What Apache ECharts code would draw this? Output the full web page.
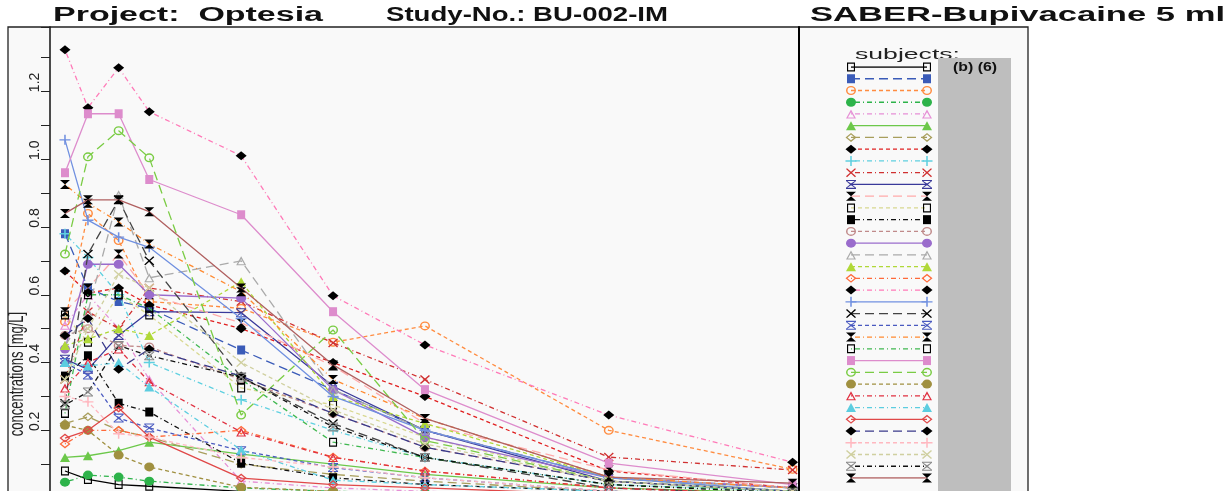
<!DOCTYPE html>
<html><head><meta charset="utf-8">
<script src="https://cdn.jsdelivr.net/npm/echarts@6/dist/echarts.min.js"></script>
<style>html,body{margin:0;padding:0;background:#fff}#c{width:1231px;height:491px}</style>
</head><body><div id="c"></div>
<script>
// time points (hours)
const times = [0.083, 0.333, 0.667, 1, 2, 3, 4, 6, 8];
// concentrations [mg/L] per subject
const s01 = [0.08, 0.055, 0.04, 0.035, 0.02, 0.015, 0.01, 0.008, 0.005];
const s02 = [0.78, 0.62, 0.58, 0.56, 0.437, 0.32, 0.2, 0.06, 0.03];
const s03 = [0.52, 0.84, 0.76, 0.58, 0.56, 0.46, 0.508, 0.2, 0.085];
const s04 = [0.047, 0.068, 0.062, 0.05, 0.03, 0.02, 0.015, 0.01, 0.005];
const s05 = [0.51, 0.6, 0.5, 0.35, 0.05, 0.03, 0.02, 0.01, 0.005];
const s06 = [0.12, 0.125, 0.14, 0.165, 0.13, 0.1, 0.07, 0.03, 0.015];
const s07 = [0.22, 0.24, 0.2, 0.18, 0.1, 0.07, 0.05, 0.02, 0.01];
const s08 = [0.67, 0.605, 0.62, 0.57, 0.5, 0.4, 0.3, 0.08, 0.03];
const s09 = [0.78, 0.71, 0.6, 0.4, 0.29, 0.2, 0.12, 0.04, 0.02];
const s10 = [0.35, 0.55, 0.5, 0.62, 0.58, 0.458, 0.35, 0.121, 0.083];
const s11 = [0.41, 0.38, 0.48, 0.55, 0.547, 0.33, 0.2, 0.05, 0.02];
const s12 = [0.55, 0.62, 0.72, 0.6, 0.517, 0.39, 0.22, 0.083, 0.03];
const s13 = [0.54, 0.46, 0.6, 0.54, 0.325, 0.275, 0.18, 0.05, 0.02];
const s14 = [0.36, 0.42, 0.28, 0.254, 0.103, 0.06, 0.04, 0.02, 0.01];
const s15 = [0.48, 0.5, 0.45, 0.446, 0.35, 0.25, 0.15, 0.05, 0.02];
const s16 = [0.44, 0.69, 0.69, 0.6, 0.59, 0.32, 0.18, 0.06, 0.03];
const s17 = [0.45, 0.55, 0.895, 0.65, 0.70, 0.32, 0.2, 0.06, 0.03];
const s18 = [0.45, 0.47, 0.5, 0.48, 0.638, 0.3, 0.22, 0.06, 0.02];
const s19 = [0.16, 0.2, 0.2, 0.18, 0.2, 0.121, 0.08, 0.03, 0.01];
const s20 = [1.323, 1.152, 1.27, 1.14, 1.01, 0.597, 0.452, 0.245, 0.106];
const s21 = [1.057, 0.82, 0.77, 0.74, 0.53, 0.3, 0.2, 0.06, 0.02];
const s22 = [0.28, 0.72, 0.88, 0.7, 0.357, 0.22, 0.12, 0.03, 0.01];
const s23 = [0.4, 0.363, 0.236, 0.207, 0.14, 0.09, 0.06, 0.02, 0.01];
const s24 = [0.925, 0.87, 0.815, 0.75, 0.609, 0.35, 0.235, 0.062, 0.03];
const s25 = [0.25, 0.6, 0.6, 0.56, 0.35, 0.165, 0.12, 0.04, 0.02];
const s26 = [0.96, 1.134, 1.134, 0.94, 0.836, 0.55, 0.32, 0.103, 0.04];
const s27 = [0.72, 1.007, 1.084, 1.004, 0.245, 0.496, 0.17, 0.05, 0.02];
const s28 = [0.215, 0.2, 0.127, 0.092, 0.032, 0.02, 0.01, 0.005, 0.005];
const s29 = [0.325, 0.4, 0.44, 0.343, 0.195, 0.12, 0.08, 0.03, 0.01];
const s30 = [0.4, 0.39, 0.4, 0.328, 0.142, 0.053, 0.04, 0.02, 0.01];
const s31 = [0.177, 0.2, 0.266, 0.18, 0.059, 0.04, 0.03, 0.01, 0.005];
const s32 = [0.48, 0.53, 0.38, 0.44, 0.36, 0.25, 0.15, 0.05, 0.02];
const s33 = [0.3, 0.284, 0.19, 0.18, 0.12, 0.092, 0.06, 0.02, 0.01];
const s34 = [0.35, 0.5, 0.66, 0.62, 0.4, 0.26, 0.16, 0.05, 0.02];
const s35 = [0.275, 0.313, 0.45, 0.42, 0.357, 0.21, 0.12, 0.04, 0.015];
const s36 = [0.84, 0.88, 0.88, 0.845, 0.62, 0.393, 0.235, 0.062, 0.044];
const subjects = [s01,s02,s03,s04,s05,s06,s07,s08,s09,s10,s11,s12,s13,s14,s15,s16,s17,s18,s19,s20,s21,s22,s23,s24,s25,s26,s27,s28,s29,s30,s31,s32,s33,s34,s35,s36];
const yTicks = [0.2, 0.4, 0.6, 0.8, 1.0, 1.2];

// marker shapes
const P = {
  oSq: 'path://M0,0H10V10H0Z M1.4,1.4V8.6H8.6V1.4Z',
  fSq: 'path://M0,0H10V10H0Z',
  oCi: 'path://M5,0A5,5 0 1 1 5,10A5,5 0 1 1 5,0Z M5,1.5A3.5,3.5 0 1 0 5,8.5A3.5,3.5 0 1 0 5,1.5Z',
  fCi: 'path://M5,0A5,5 0 1 1 5,10A5,5 0 1 1 5,0Z',
  oTr: 'path://M5,0L10,10L0,10Z M5,3L1.9,8.9L8.1,8.9Z',
  fTr: 'path://M5,0L10,10L0,10Z',
  oDi: 'path://M5,0L10,5L5,10L0,5Z M5,1.8L1.8,5L5,8.2L8.2,5Z',
  fDi: 'path://M5,0L10,5L5,10L0,5Z',
  plus: 'path://M4.3,0H5.7V4.3H10V5.7H5.7V10H4.3V5.7H0V4.3H4.3Z',
  x: 'path://M0,1L1,0L5,4L9,0L10,1L6,5L10,9L9,10L5,6L1,10L0,9L4,5Z',
  hg: 'path://M0,0L10,0L0,10L10,10Z',
  hgx: 'path://M0,0H10V1.2H0Z M0,8.8H10V10H0Z M0,1.2L1.2,1.2L5,4L8.8,1.2L10,1.2L6,5L10,8.8L8.8,8.8L5,6L1.2,8.8L0,8.8L4,5Z'
};
const D = {solid:'solid', dashed:[4,3], dotdash:[1,3,5,3], longdash:[9,5]};
const styles = [
 ['oSq','#000','#000','solid'],
 ['fSq','#3a5bb8','#3a5bb8','longdash'],
 ['oCi','#ff8c40','#ff8c40','dashed'],
 ['fCi','#2db34a','#2db34a','dotdash'],
 ['oTr','#e68fd6','#e68fd6','dotdash'],
 ['fTr','#6cc84a','#6cc84a','solid'],
 ['oDi','#a89e5c','#a89e5c','longdash'],
 ['fDi','#000','#e02020','dashed'],
 ['plus','#5fd0e0','#5fd0e0','dotdash'],
 ['x','#d03030','#d03030','dotdash'],
 ['hgx','#3a3a9a','#3a3a9a','solid'],
 ['hg','#000','#ffaaaa','longdash'],
 ['oSq','#000','#d8d890','dashed'],
 ['fSq','#000','#111','dotdash'],
 ['oCi','#c08a8a','#c08a8a','dashed'],
 ['fCi','#9a6ccc','#9a6ccc','solid'],
 ['oTr','#aaaaaa','#aaaaaa','longdash'],
 ['fTr','#b0d838','#b0d838','dashed'],
 ['oDi','#ff6a3a','#ff6a3a','dotdash'],
 ['fDi','#000','#ff7ab8','dotdash'],
 ['plus','#7090e0','#7090e0','solid'],
 ['x','#000','#444','longdash'],
 ['hgx','#4a5ac0','#4a5ac0','dashed'],
 ['hg','#000','#ff8a30','dotdash'],
 ['oSq','#000','#40b850','dotdash'],
 ['fSq','#dd8ccc','#dd8ccc','solid'],
 ['oCi','#7acc44','#7acc44','longdash'],
 ['fCi','#a09040','#a09040','dashed'],
 ['oTr','#e03040','#e03040','dotdash'],
 ['fTr','#5ccde0','#5ccde0','dotdash'],
 ['oDi','#e04848','#e04848','solid'],
 ['fDi','#000','#3a3a8a','longdash'],
 ['plus','#ffb8c0','#ffb8c0','dashed'],
 ['x','#d0d0a0','#d0d0a0','dashed'],
 ['hgx','#888','#111','dotdash'],
 ['hg','#000','#b06060','solid']
];
const symSize = {oSq:[8,9], fSq:[8,9], oCi:[10,9], fCi:[10,9], oTr:[10,9], fTr:[10,9], oDi:[11,9], fDi:[11,9], plus:[11,10], x:[10,9], hg:[10,9], hgx:[10,9]};

const FONT = '"Liberation Sans", Arial, sans-serif';
const mctx = document.createElement('canvas').getContext('2d');
function fitScale(text, font, target){ mctx.font = font; return target / mctx.measureText(text).width; }

const chart = echarts.init(document.getElementById('c'), null, {renderer:'canvas'});
const series = [];
subjects.forEach((vals, i) => {
  const [sym, mc, lc, dash] = styles[i];
  const common = {
    type:'line', symbol: P[sym], showAllSymbol: true, silent: true, animation: false,
    itemStyle: {color: mc, borderWidth: 0},
    lineStyle: {color: lc, width: 1.3, type: D[dash]},
    z: 2 + i/100
  };
  series.push(Object.assign({}, common, {
    name: 'S' + (i+1), xAxisIndex: 0, yAxisIndex: 0, symbolSize: symSize[sym],
    data: vals.map((v, k) => [times[k], v])
  }));
  series.push(Object.assign({}, common, {
    name: 'L' + (i+1), xAxisIndex: 1, yAxisIndex: 2, symbolSize: symSize[sym],
    data: [[0, i], [1, i]]
  }));
});

const titleFont = 'bold 20px ' + FONT;
const titles = [
  ['Project:  Optesia', 53, 270],
  ['Study-No.: BU-002-IM', 386, 282],
  ['SABER-Bupivacaine 5 ml', 810, 415]
];
const graphics = [
  {type:'rect', z:-10, shape:{x:8, y:27, width:1020, height:520}, style:{fill:'#f9f9f9', stroke:'#222', lineWidth:1.3}},
  {type:'rect', z:60, shape:{x:938, y:58, width:73, height:440}, style:{fill:'#bebebe'}},
];
titles.forEach(([t, x, w]) => {
  graphics.push({type:'text', z:70, x:x, y:15, scaleX: fitScale(t, titleFont, w),
    style:{text:t, font:titleFont, fill:'#111', textAlign:'left', textVerticalAlign:'middle'}});
});
const subFont = '15px ' + FONT;
graphics.push({type:'text', z:50, x:855, y:55, scaleX: fitScale('subjects:', subFont, 105),
  style:{text:'subjects:', font:subFont, fill:'#222', textAlign:'left', textVerticalAlign:'middle'}});
const bFont = 'bold 13px ' + FONT;
graphics.push({type:'text', z:70, x:953, y:67, scaleX: fitScale('(b) (6)', bFont, 44),
  style:{text:'(b) (6)', font:bFont, fill:'#111', textAlign:'left', textVerticalAlign:'middle'}});
graphics.push({type:'text', z:70, x:18, y:374, rotation: Math.PI/2, scaleY: 1.5,
  style:{text:'concentrations [mg/L]', font:'13px ' + FONT, fill:'#222', textAlign:'center', textVerticalAlign:'middle'}});

chart.setOption({
  animation: false,
  backgroundColor: '#ffffff',
  graphic: graphics,
  grid: [
    {left: 50, width: 749, top: 27, height: 505, show: false, containLabel: false, outerBoundsMode: 'none'},
    {left: 851, width: 76, top: 67, height: 411, show: false, outerBoundsMode: 'none'}
  ],
  xAxis: [
    {gridIndex:0, type:'value', min:-0.08, max:8.07, axisLine:{show:false}, axisTick:{show:false}, axisLabel:{show:false}, splitLine:{show:false}},
    {gridIndex:1, type:'value', min:0, max:1, show:false}
  ],
  yAxis: [
    {gridIndex:0, type:'value', min:-0.1, max:1.39, interval:0.1, position:'left',
     axisLine:{show:true, onZero:false, lineStyle:{color:'#111', width:1.5}},
     axisTick:{show:true, length:9, lineStyle:{color:'#222', width:1}},
     axisLabel:{show:true, rotate:90, margin:8, fontSize:14, fontFamily:FONT, color:'#222',
       padding:[0,0,0,18],
       formatter: v => yTicks.some(t => Math.abs(t - v) < 1e-6) ? v.toFixed(1) : ''},
     splitLine:{show:false}},
    {gridIndex:0, type:'value', min:-0.1, max:1.39, position:'right',
     axisLine:{show:true, onZero:false, lineStyle:{color:'#000', width:2}},
     axisTick:{show:false}, axisLabel:{show:false}, splitLine:{show:false}},
    {gridIndex:1, type:'value', min:0, max:35, inverse:true, show:false}
  ],
  series: series
});
</script>
</body></html>
